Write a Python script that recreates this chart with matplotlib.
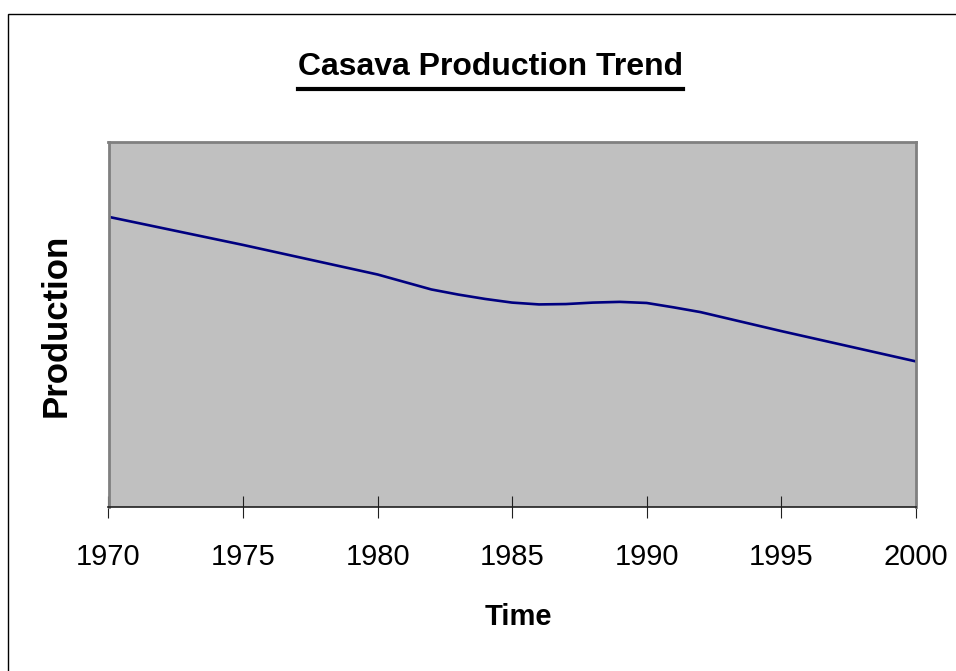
import matplotlib
matplotlib.use("Agg")
import matplotlib.pyplot as plt
from matplotlib.lines import Line2D
from matplotlib.patches import Rectangle
from matplotlib import font_manager

# values (y is in plot-height percent, axis has no scale)
years = [1970, 1975, 1980, 1982, 1983, 1984, 1985, 1986, 1987, 1988,
         1989, 1990, 1991, 1992, 1995, 2000]
production = [79.5, 71.8, 63.7, 59.6, 58.2, 57.0, 56.0, 55.5, 55.6, 56.0,
              56.2, 55.9, 54.7, 53.4, 48.2, 39.9]
xticks = [1970, 1975, 1980, 1985, 1990, 1995, 2000]

W, H = 956, 671
names = {f.name for f in font_manager.fontManager.ttflist}
narrow = "Liberation Sans Narrow" if "Liberation Sans Narrow" in names else "Liberation Sans"
tick_size = 24 if narrow == "Liberation Sans Narrow" else 21

fig = plt.figure(figsize=(W / 100, H / 100), dpi=100)
ax = fig.add_axes([108.5 / W, 1 - 507 / H, 807.2 / W, 365 / H])
ax.set_facecolor("#c0c0c0")

ax.plot(years, production, color="#000080", linewidth=1.9, solid_joinstyle="round")

ax.set_xlim(1970, 2000)
ax.set_ylim(0, 100)
ax.set_yticks([])
ax.set_xticks(xticks)
ax.set_xticklabels([str(y) for y in xticks], family=narrow, fontsize=tick_size)
ax.tick_params(axis="x", direction="inout", length=16, width=0.8, color="#202020", pad=18)

for side in ["left", "top", "right"]:
    ax.spines[side].set_color("#808080")
    ax.spines[side].set_linewidth(2.0)
ax.spines["bottom"].set_color("#202020")
ax.spines["bottom"].set_linewidth(1.2)

# labels
fig.text(56 / W, 1 - 325 / H, "Production", rotation=90, ha="center", va="center",
         family="Liberation Sans", fontweight="bold", fontsize=25)
fig.text(518 / W, 1 - 617 / H, "Time", ha="center", va="center",
         family="Liberation Sans", fontweight="bold", fontsize=21)

title = fig.text(490 / W, 1 - 75 / H, "Casava Production Trend", ha="center", va="baseline",
                 family="Liberation Sans", fontweight="bold", fontsize=23)

# underline the title under its drawn extent
fig.canvas.draw()
bb = title.get_window_extent()
uy = 1 - 88.7 / H
fig.add_artist(Line2D([bb.x0 / W, bb.x1 / W], [uy, uy], color="black", linewidth=3.0))

# outer chart frame (right/bottom edges fall off the canvas)
fig.add_artist(Rectangle((8 / W, -0.1), 1.2, 1.1 - 14 / H, fill=False,
                         edgecolor="black", linewidth=1.0))

fig.savefig("out.png", dpi=100)
plt.close(fig)
